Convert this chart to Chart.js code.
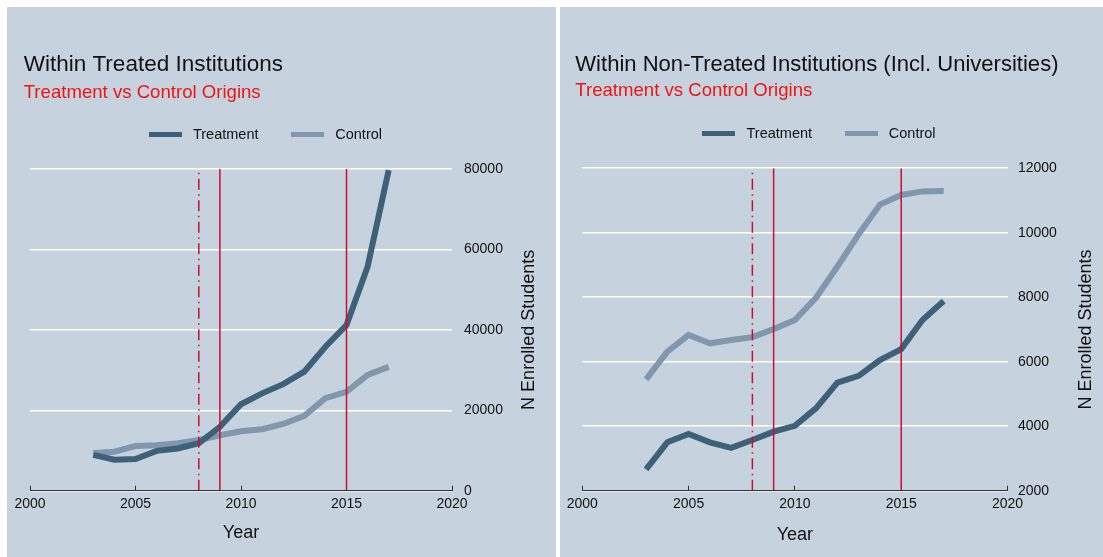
<!DOCTYPE html>
<html>
<head>
<meta charset="utf-8">
<script src="https://cdn.jsdelivr.net/npm/chart.js@4.4.1/dist/chart.umd.min.js"></script>
<style>
    html, body { margin: 0; padding: 0; background: #fff; }
    body { width: 1103px; height: 557px; position: relative; overflow: hidden; }
    canvas { position: absolute; top: 7px; background: #c6d3df; }
    #treatedChart { left: 7px; }
    #nonTreatedChart { left: 560px; }
</style>
</head>
<body>
<canvas id="treatedChart" width="549" height="550"></canvas>
<canvas id="nonTreatedChart" width="543" height="550"></canvas>
<script>
// data
const years = [2003, 2004, 2005, 2006, 2007, 2008, 2009, 2010, 2011, 2012, 2013, 2014, 2015, 2016, 2017];
const treatedTreatment = [8900, 7700, 7900, 9900, 10500, 11800, 15900, 21500, 24200, 26500, 29600, 35800, 41200, 55700, 79700];
const treatedControl = [9400, 9700, 11100, 11300, 11800, 12600, 13800, 14800, 15300, 16600, 18600, 23000, 24600, 28800, 30800];
const nonTreatedTreatment = [2660, 3500, 3760, 3500, 3330, 3570, 3830, 4010, 4560, 5350, 5560, 6050, 6390, 7290, 7880];
const nonTreatedControl = [5450, 6310, 6830, 6570, 6670, 6760, 7010, 7290, 7990, 8950, 9950, 10870, 11170, 11280, 11290];
const policyYears = [2008, 2009, 2015];
const policyDashed = [true, false, false];
const seriesLabels = ['Treatment', 'Control'];
const xTickLabels = [2000, 2005, 2010, 2015, 2020];
const treatedTickLabels = [0, 20000, 40000, 60000, 80000];
const nonTreatedTickLabels = [2000, 4000, 6000, 8000, 10000, 12000];

const DARK = '#3f6079';
const LIGHT = '#8197ae';
const CRIMSON = '#c8102e';
const INK = '#111';

Chart.defaults.font.family = "'Liberation Sans', Arial, Helvetica, sans-serif";
Chart.defaults.color = INK;

function legendSwatch(color) {
    const c = document.createElement('canvas');
    c.width = 33;
    c.height = 5;
    const g = c.getContext('2d');
    g.fillStyle = color;
    g.fillRect(0, 0, 33, 5);
    return c;
}

// y axis title reads bottom-to-top on the right side
const sideTitle = {
    id: 'sideTitle',
    afterDraw(chart, args, opts) {
        const { ctx, chartArea } = chart;
        ctx.save();
        ctx.translate(chartArea.right + opts.offset, (chartArea.top + chartArea.bottom) / 2);
        ctx.rotate(-Math.PI / 2);
        ctx.font = "18px 'Liberation Sans', Arial, sans-serif";
        ctx.fillStyle = INK;
        ctx.textAlign = 'center';
        ctx.textBaseline = 'middle';
        ctx.fillText(opts.text, 0, 0);
        ctx.restore();
    }
};

// empty layout box between the legend and the plot
const legendGap = {
    id: 'legendGap',
    beforeInit(chart, args, opts) {
        const size = opts.size;
        Chart.layouts.addBox(chart, {
            position: 'top',
            weight: 500,
            fullSize: true,
            options: {},
            isHorizontal() { return true; },
            update(maxWidth) {
                this.width = maxWidth;
                this.height = size;
            },
            draw() {}
        });
    }
};

function seriesData(values) {
    return years.map((yr, i) => ({ x: yr, y: values[i] }));
}

function makeChart(canvasId, title, treatment, control, yTicks, panel) {
    const yMin = yTicks[0];
    const yMax = yTicks[yTicks.length - 1];
    const swatches = [legendSwatch(DARK), legendSwatch(LIGHT)];

    const policyLines = policyYears.map((yr, i) => ({
        label: 'policy ' + yr,
        isPolicy: true,
        data: [{ x: yr, y: yMin }, { x: yr, y: yMax }],
        borderColor: CRIMSON,
        borderWidth: 1.5,
        borderDash: policyDashed[i] ? [11, 4.5, 1.5, 4.5] : [],
        pointRadius: 0,
        order: 0
    }));

    const series = [treatment, control].map((values, i) => ({
        label: seriesLabels[i],
        data: seriesData(values),
        borderColor: i === 0 ? DARK : LIGHT,
        backgroundColor: i === 0 ? DARK : LIGHT,
        borderWidth: 6,
        borderCapStyle: 'butt',
        tension: 0,
        pointRadius: 0,
        order: i + 1
    }));

    return new Chart(document.getElementById(canvasId), {
        type: 'line',
        data: { datasets: policyLines.concat(series) },
        plugins: [sideTitle, legendGap],
        options: {
            responsive: false,
            animation: false,
            events: [],
            layout: { padding: { left: panel.titleLeft, right: panel.padRight, top: 0, bottom: 0 } },
            plugins: {
                title: {
                    display: true, text: title, align: 'start', color: INK,
                    font: { size: 22.5, weight: 'normal' },
                    padding: panel.titlePad
                },
                subtitle: {
                    display: true, text: 'Treatment vs Control Origins', align: 'start', color: '#f01414',
                    font: { size: 18.6, weight: 'normal' },
                    padding: panel.subtitlePad
                },
                legend: {
                    display: true,
                    labels: {
                        usePointStyle: true,
                        pointStyleWidth: 41,
                        padding: 28.5,
                        color: INK,
                        font: { size: 14.5 },
                        generateLabels(chart) {
                            return Chart.defaults.plugins.legend.labels.generateLabels(chart)
                                .filter(item => !chart.data.datasets[item.datasetIndex].isPolicy)
                                .map(item => Object.assign(item, {
                                    pointStyle: swatches[seriesLabels.indexOf(item.text)],
                                    lineWidth: 0
                                }));
                        }
                    }
                },
                tooltip: { enabled: false },
                legendGap: { size: panel.legendGap },
                sideTitle: { text: 'N Enrolled Students', offset: panel.sideTitleOffset }
            },
            scales: {
                x: {
                    type: 'linear',
                    min: xTickLabels[0],
                    max: xTickLabels[xTickLabels.length - 1],
                    ticks: {
                        stepSize: xTickLabels[1] - xTickLabels[0],
                        callback: v => String(v),
                        color: INK, font: { size: 14 }, padding: 10, maxRotation: 0, autoSkip: false
                    },
                    grid: { drawOnChartArea: false, drawTicks: true, tickLength: -5, color: '#333', lineWidth: 1 },
                    border: { display: true, color: '#333', width: 1, z: 1 },
                    title: { display: true, text: 'Year', color: INK, font: { size: 18 }, padding: { top: 0, bottom: panel.yearPad } },
                    afterFit(scale) {
                        scale.paddingLeft = panel.plotLeft;
                        scale.height = panel.xAxisHeight;
                    }
                },
                y: {
                    position: 'right',
                    min: yMin,
                    max: yMax,
                    ticks: {
                        stepSize: yTicks[1] - yTicks[0],
                        callback: v => String(v),
                        color: INK, font: { size: 14 }, padding: panel.yTickPad
                    },
                    grid: { color: '#fff', lineWidth: 1.5, drawTicks: false },
                    border: { display: false },
                    afterFit(scale) {
                        scale.width = panel.yAxisWidth;
                    }
                }
            }
        }
    });
}

makeChart('treatedChart', 'Within Treated Institutions', treatedTreatment, treatedControl, treatedTickLabels, {
    titleLeft: 16.7, padRight: 53, plotLeft: 23, yAxisWidth: 51, xAxisHeight: 66.3, yTickPad: 12,
    titlePad: { top: 43.8, bottom: 0 }, subtitlePad: { top: 3.7, bottom: -4.85 }, legendGap: 17,
    sideTitleOffset: 77.2, yearPad: 12.9
});

makeChart('nonTreatedChart', 'Within Non-Treated Institutions (Incl. Universities)', nonTreatedTreatment, nonTreatedControl, nonTreatedTickLabels, {
    titleLeft: 15.3, padRight: 44.5, plotLeft: 22.3, yAxisWidth: 51, xAxisHeight: 66.3, yTickPad: 10.4,
    titlePad: { top: 43.8, bottom: 0 }, subtitlePad: { top: 1.7, bottom: -3.85 }, legendGap: 17.2,
    sideTitleOffset: 78.4, yearPad: 11.2
});
</script>
</body>
</html>
